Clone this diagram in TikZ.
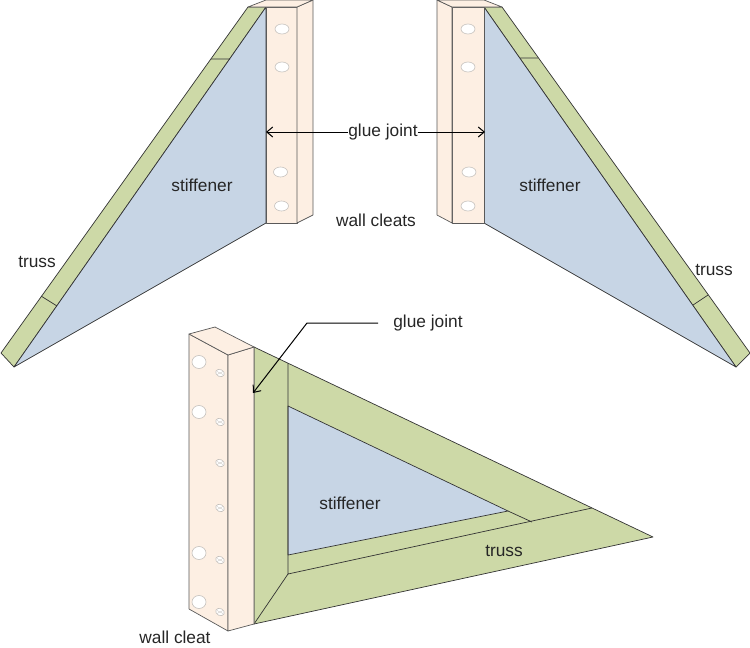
\documentclass[tikz,border=0pt]{standalone}
\usepackage{fontspec}
\setmainfont{Liberation Sans}
\definecolor{cleat}{HTML}{FDEFE3}
\definecolor{truss}{HTML}{CDD9A7}
\definecolor{stiffener}{HTML}{C7D5E5}
\definecolor{holeline}{HTML}{C4C0BC}
\usetikzlibrary{arrows.meta}
\tikzset{
  cleatface/.style={fill=cleat, draw=black!65, line width=0.7pt, line join=round},
  trussface/.style={fill=truss, draw=black!80, line width=0.7pt, line join=round},
  stiffface/.style={fill=stiffener, draw=black!80, line width=0.7pt, line join=round},
  hole/.style={fill=white, draw=holeline, line width=0.6pt},
  label/.style={font=\fontsize{17.3}{19}\selectfont, text=black!85, inner sep=0pt},
  glue/.style={draw=black, line width=1pt, -{Straight Barb[length=6pt,width=10pt]}}
}
\newcommand{\screwhole}[2]{
  \draw[hole, rotate around={-25:(#1,#2)}] (#1,#2) ellipse (4.5 and 3.5);
  \draw[holeline, line width=0.4pt] (#1-3,#2+1.5) -- (#1+3,#2-1.5) (#1-3,#2-1.5) -- (#1+3,#2+1.5);
}
\begin{document}
\begin{tikzpicture}[x=1pt, y=-1pt]
  \useasboundingbox (0,0) rectangle (750,648);

  % left bracket
  \draw[trussface] (248,7) -- (266,7) -- (14,367) -- (1,353) -- cycle;
  \draw[stiffface] (266,7) -- (266,223) -- (14,367) -- cycle;
  \draw[black!80, line width=0.7pt] (211,59) -- (230,59) (41,296) -- (57,306);
  \draw[cleatface] (266,7) -- (297,7) -- (297,223) -- (266,223) -- cycle;
  \draw[cleatface] (297,7) -- (313,0) -- (313,215) -- (297,223) -- cycle;
  \draw[cleatface] (248,7) -- (266,0) -- (313,0) -- (297,7) -- cycle;
  \foreach \hx/\hy in {282/29, 282/67, 280.5/172, 281.5/206}
    \draw[hole] (\hx,\hy) ellipse (7 and 5);

  % right bracket
  \draw[trussface] (484,7) -- (502,7) -- (750,353) -- (736,367) -- cycle;
  \draw[stiffface] (484,7) -- (484,223) -- (736,367) -- cycle;
  \draw[black!80, line width=0.7pt] (520,58) -- (538,58) (693,305) -- (708,295);
  \draw[cleatface] (452,7) -- (484,7) -- (484,223) -- (452,223) -- cycle;
  \draw[cleatface] (437,0) -- (452,7) -- (452,223) -- (437,215) -- cycle;
  \draw[cleatface] (437,0) -- (484,0) -- (502,7) -- (452,7) -- cycle;
  \foreach \hx/\hy in {468/29, 468/67, 469/172, 468/206}
    \draw[hole] (\hx,\hy) ellipse (7 and 5);

  % lower bracket
  \draw[trussface] (254,347) -- (653,537) -- (254,624) -- cycle;
  \draw[stiffface] (288,406) -- (508,511) -- (288,555) -- cycle;
  \draw[trussface, fill=none] (288,363) -- (288,574) -- (592,508);
  \draw[trussface, fill=none] (254,624) -- (288,574);
  \draw[trussface, fill=none] (508,511) -- (532,522);
  \draw[cleatface] (189,334) -- (228,355) -- (228,631) -- (189,609) -- cycle;
  \draw[cleatface] (228,355) -- (254,347) -- (254,624) -- (228,631) -- cycle;
  \draw[cleatface] (189,334) -- (215,327) -- (254,347) -- (228,355) -- cycle;
  \foreach \hx/\hy in {199/362, 199/412, 199/553, 199/602}
    \draw[hole] (\hx,\hy) ellipse (7 and 6.5);
  \foreach \hx/\hy in {220/373, 220/422, 220/463, 220/508, 220/560, 220/612}
    {\screwhole{\hx}{\hy}}

  % labels
  \node[label] (stiffLeft) at (202,185) {stiffener};
  \node[label] (stiffRight) at (550,185) {stiffener};
  \node[label] (stiffLower) at (350,503) {stiffener};
  \node[label] (trussLeft) at (37,262) {truss};
  \node[label] (trussRight) at (714,270) {truss};
  \node[label] (trussLower) at (504,551) {truss};
  \node[label] (cleatsUpper) at (376,220) {wall cleats};
  \node[label] (cleatLower) at (175,637) {wall cleat};
  \node[label] (glueUpper) at (383,132) {glue joint};
  \node[label] (glueLower) at (428,323) {glue joint};

  % glue joint arrows
  \coordinate (jointLeft) at (266,132);
  \coordinate (jointRight) at (485,132);
  \coordinate (bend) at (307,323);
  \coordinate (jointLower) at (253,393);
  \draw[glue] (glueUpper.west) -- (jointLeft);
  \draw[glue] (glueUpper.east) -- (jointRight);
  \draw[glue] ([xshift=-15pt]glueLower.west) -- (bend) -- (jointLower);
\end{tikzpicture}
\end{document}
